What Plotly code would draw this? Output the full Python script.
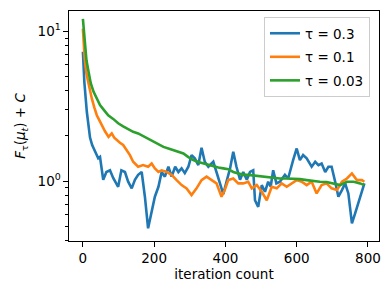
import plotly.graph_objects as go

# ---- data ----
it_a = [0, 4, 11, 15, 20, 26, 34, 43, 48, 57, 66, 76, 85, 99, 108, 118, 127, 137, 146, 155, 165, 174, 183, 193,
        202, 212, 221, 230, 240, 249, 259, 268, 277, 286, 296, 305, 314, 324, 333, 342, 352, 366, 375, 385, 394,
        403, 413, 422, 431, 441, 450, 460, 469, 478, 483, 492, 502, 511, 520, 527, 534, 543, 553, 567, 576, 590,
        600, 609, 618, 628, 642, 652, 661, 670, 680, 689, 698, 708, 717, 727, 736, 745, 755, 764, 773, 783, 790]
val_a = [7.3, 4.6, 2.9, 2.35, 1.95, 1.74, 1.57, 1.42, 1.45, 1.02, 1.15, 1.18, 1.05, 0.916, 1.18, 1.15, 0.99,
         0.894, 1.02, 1.10, 1.15, 0.786, 0.484, 0.609, 0.786, 0.916, 1.15, 1.07, 1.246, 1.07, 1.246, 1.15, 1.215,
         1.13, 1.246, 1.49, 1.417, 1.278, 1.67, 1.345, 1.246, 1.345, 1.15, 0.99, 0.819, 0.99, 1.215, 1.57, 1.246,
         1.02, 1.15, 1.02, 1.15, 1.18, 0.745, 0.673, 0.94, 0.848, 0.99, 0.916, 1.18, 0.965, 0.99, 1.10, 1.04, 1.38,
         1.65, 1.38, 1.49, 1.417, 1.246, 1.345, 1.278, 1.31, 1.15, 1.246, 1.246, 0.99, 0.786, 0.871, 0.965, 0.827,
         0.522, 0.609, 0.713, 0.827, 0.965]

it_b = [0, 5, 10, 16, 25, 32, 39, 46, 53, 62, 72, 81, 88, 95, 104, 113, 127, 132, 141, 155, 169, 183, 193, 202, 212,
        221, 235, 249, 263, 277, 291, 305, 319, 333, 347, 361, 375, 389, 398, 408, 422, 436, 450, 464, 474, 488,
        502, 516, 530, 544, 558, 572, 586, 600, 614, 628, 642, 656, 670, 684, 698, 713, 727, 741, 755, 769, 783, 790]
val_b = [10.4, 6.6, 5.2, 4.37, 3.56, 3.1, 2.75, 2.55, 2.36, 2.15, 1.97, 2.08, 1.95, 1.876, 1.8, 1.74, 1.57, 1.49,
         1.345, 1.246, 1.278, 1.246, 1.31, 1.215, 1.15, 1.18, 1.15, 1.10, 1.015, 0.94, 0.894, 0.807, 0.894, 1.015,
         1.07, 1.015, 0.965, 0.786, 0.871, 1.015, 1.04, 0.965, 0.965, 0.99, 0.894, 0.94, 0.848, 0.745, 0.916, 0.894,
         0.965, 0.916, 0.965, 1.015, 0.99, 0.94, 0.99, 0.827, 0.94, 0.965, 0.894, 0.871, 0.99, 1.04, 1.125, 1.015,
         1.015, 0.99]

it_c = [0, 5, 10, 16, 22, 30, 40, 48, 57, 71, 85, 99, 113, 127, 141, 155, 169, 184, 198, 212, 226, 240, 254, 268, 282,
        296, 310, 324, 338, 352, 366, 380, 394, 408, 422, 436, 450, 464, 478, 492, 516, 535, 553, 572, 590, 609,
        628, 646, 665, 684, 703, 722, 741, 760, 778, 790]
val_c = [12.1, 8.2, 6.4, 5.35, 4.5, 3.94, 3.5, 3.21, 3.02, 2.75, 2.6, 2.43, 2.32, 2.22, 2.13, 2.08, 2.0, 1.9, 1.83,
         1.77, 1.69, 1.65, 1.61, 1.585, 1.53, 1.445, 1.38, 1.34, 1.31, 1.278, 1.246, 1.23, 1.215, 1.20, 1.15, 1.13,
         1.10, 1.10, 1.09, 1.08, 1.07, 1.055, 1.04, 1.04, 1.04, 1.03, 1.015, 1.0, 0.99, 0.985, 0.965, 0.94, 0.99,
         0.99, 0.965, 0.94]

names = ["τ = 0.3", "τ = 0.1", "τ = 0.03"]
colors = ["#1f77b4", "#ff7f0e", "#2ca02c"]
xticks = [0, 200, 400, 600, 800]
yticks = [1, 10]
yticktext = ["10<sup>0</sup>", "10<sup>1</sup>"]
yminor = [0.4, 0.5, 0.6, 0.7, 0.8, 0.9, 2, 3, 4, 5, 6, 7, 8, 9]

FONT = "DejaVu Sans"
fig = go.Figure()
for i, (xs, ys, n, c) in enumerate(zip([it_a, it_b, it_c], [val_a, val_b, val_c], names, colors)):
    fig.add_trace(go.Scatter(x=xs, y=ys, mode="lines", name=n, legendgroup=f"g{i}",
                             line=dict(color=c, width=2.6)))

axis_common = dict(showline=True, linecolor="black", linewidth=1.1, mirror=True,
                   ticks="outside", ticklen=4.5, tickwidth=1.1, tickcolor="black",
                   showgrid=False, zeroline=False,
                   tickfont=dict(family=FONT, size=13.5, color="black"))

fig.update_layout(
    width=391, height=294,
    margin=dict(l=69, r=12, t=11, b=53),
    paper_bgcolor="white", plot_bgcolor="white",
    font=dict(family=FONT, size=13.5, color="black"),
    xaxis=dict(range=[-39, 831], tickvals=xticks,
               title=dict(text="iteration count", standoff=4,
                          font=dict(family=FONT, size=13.5, color="black")),
               **axis_common),
    yaxis=dict(type="log", range=[-0.4, 1.135], tickvals=yticks, ticktext=yticktext,
               minor=dict(tickvals=yminor, ticks="outside", ticklen=2.5, tickwidth=0.9,
                          tickcolor="black", showgrid=False),
               title=dict(text="<i>F</i><sub>τ</sub>(<i>μ</i><sub><i>t</i></sub>) + <i>C</i>", standoff=8,
                          font=dict(family=FONT, size=13.5, color="black")),
               **axis_common),
    legend=dict(x=0.629, y=0.974, xanchor="left", yanchor="top",
                bgcolor="rgba(255,255,255,0.8)", bordercolor="#cccccc", borderwidth=1,
                font=dict(family=FONT, size=13.5, color="black"),
                tracegroupgap=3, itemwidth=30),
    showlegend=True,
)

fig.write_html("out.html", config={"displayModeBar": False},
               post_script="document.body.style.margin='0px';document.body.style.overflow='hidden';")
